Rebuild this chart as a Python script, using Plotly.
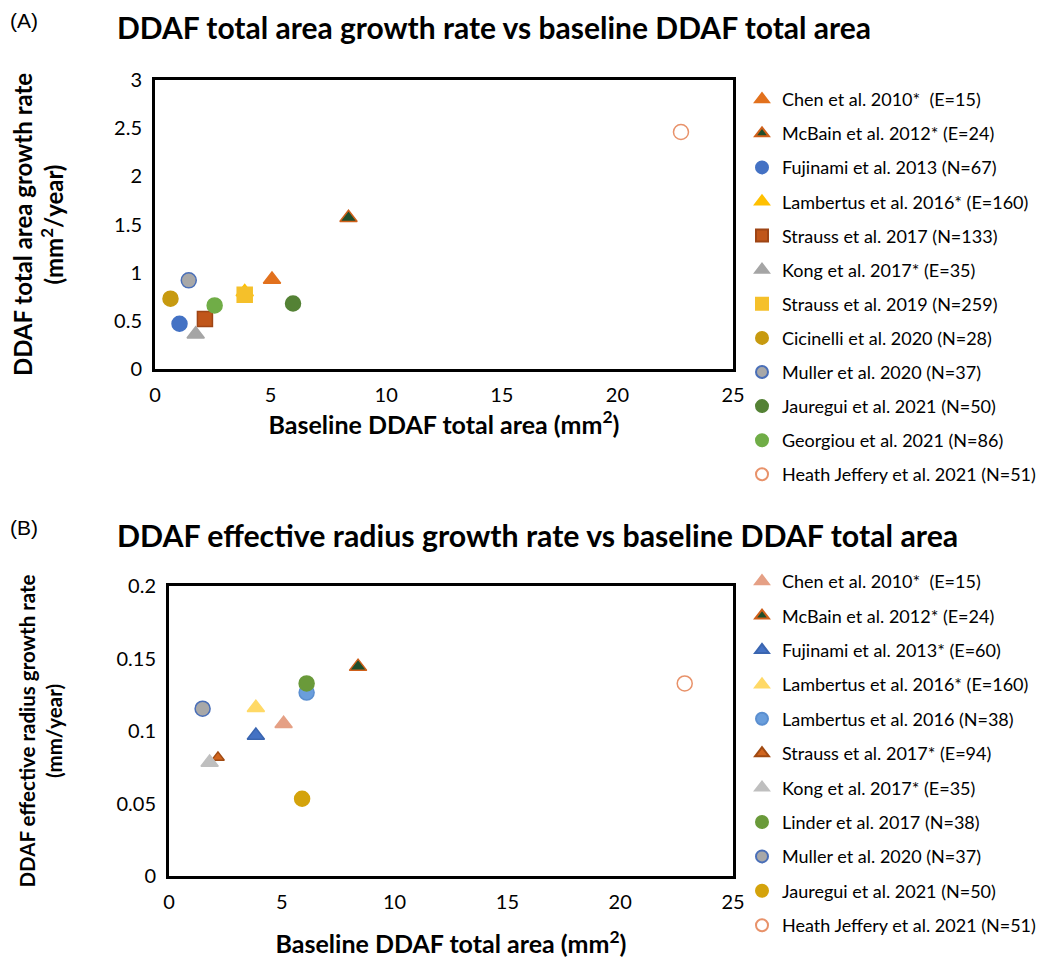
import plotly.graph_objects as go

# ---------------- Panel A data ----------------
a_names = ["Chen et al. 2010*  (E=15)", "McBain et al. 2012* (E=24)", "Fujinami et al. 2013 (N=67)",
           "Lambertus et al. 2016* (E=160)", "Strauss et al. 2017 (N=133)", "Kong et al. 2017* (E=35)",
           "Strauss et al. 2019 (N=259)", "Cicinelli et al. 2020 (N=28)", "Muller et al. 2020 (N=37)",
           "Jauregui et al. 2021 (N=50)", "Georgiou et al. 2021 (N=86)", "Heath Jeffery et al. 2021 (N=51)"]
a_x = [5.06, 8.37, 1.06, 3.88, 2.16, 1.76, 3.88, 0.67, 1.46, 5.97, 2.58, 22.75]
a_y = [0.93, 1.57, 0.47, 0.80, 0.52, 0.36, 0.77, 0.73, 0.92, 0.68, 0.66, 2.46]
a_sym = ["triangle-up", "triangle-up", "circle", "triangle-up", "square", "triangle-up",
         "square", "circle", "circle", "circle", "circle", "circle-open"]
a_fill = ["#E2711D", "#1F4E2C", "#4472C4", "#FFC000", "#C0561A", "#A5A5A5",
          "#F5C02A", "#C79A10", "#A8A8A8", "#548235", "#70AD47", "#E8926A"]
a_line = ["#E2711D", "#D0601A", "#4472C4", "#FFC000", "#9E4515", "#A5A5A5",
          "#F5C02A", "#C79A10", "#4A6FB8", "#548235", "#70AD47", "#E8926A"]

# ---------------- Panel B data ----------------
b_names = ["Chen et al. 2010*  (E=15)", "McBain et al. 2012* (E=24)", "Fujinami et al. 2013* (E=60)",
           "Lambertus et al. 2016* (E=160)", "Lambertus et al. 2016 (N=38)", "Strauss et al. 2017* (E=94)",
           "Kong et al. 2017* (E=35)", "Linder et al. 2017 (N=38)", "Muller et al. 2020 (N=37)",
           "Jauregui et al. 2021 (N=50)", "Heath Jeffery et al. 2021 (N=51)"]
b_x = [5.08, 8.38, 3.85, 3.85, 6.10, 2.17, 1.80, 6.10, 1.49, 5.90, 22.86]
b_y = [0.105, 0.1444, 0.0969, 0.1161, 0.1265, 0.0818, 0.0783, 0.1328, 0.1154, 0.0533, 0.1328]
b_sym = ["triangle-up", "triangle-up", "triangle-up", "triangle-up", "circle", "triangle-up",
         "triangle-up", "circle", "circle", "circle", "circle-open"]
b_fill = ["#E5A085", "#1F4E2C", "#4472C4", "#FFD966", "#6A9EDC", "#D0651F",
          "#BFBFBF", "#6A9A3A", "#A8A8A8", "#D4A30C", "#E8926A"]
b_line = ["#E5A085", "#D0601A", "#3A65B0", "#FFD966", "#5B8FD0", "#A04A12",
          "#BFBFBF", "#6A9A3A", "#4A6FB8", "#D4A30C", "#E8926A"]
b_size = [15, 15, 15, 15, 15, 11, 15, 15, 15, 15, 15]

FONT = "Lato"

fig = go.Figure()

for i, n in enumerate(a_names):
    fig.add_trace(go.Scatter(
        x=[a_x[i]], y=[a_y[i]], mode="markers", name=n, legend="legend", legendgroup="a%d" % i,
        xaxis="x", yaxis="y",
        marker=dict(symbol=a_sym[i], size=15, color=a_fill[i],
                    line=dict(color=a_line[i], width=1.5))))

for i, n in enumerate(b_names):
    fig.add_trace(go.Scatter(
        x=[b_x[i]], y=[b_y[i]], mode="markers", name=n, legend="legend2", legendgroup="b%d" % i,
        xaxis="x2", yaxis="y2",
        marker=dict(symbol=b_sym[i], size=b_size[i], color=b_fill[i],
                    line=dict(color=b_line[i], width=1.5))))

W, H = 1060, 963
OFF = 8  # page body margin offset


def px(x):
    return (x - OFF) / W


def py(y):
    return 1 - (y - OFF) / H


axis_common = dict(showline=True, linecolor="black", linewidth=3, mirror=True,
                   showgrid=False, zeroline=False, ticks="", automargin=False,
                   ticklabelstandoff=6,
                   tickfont=dict(family=FONT, size=20, color="#000"))

fig.update_layout(
    width=W, height=H, margin=dict(l=0, r=0, t=0, b=0, autoexpand=False),
    paper_bgcolor="white", plot_bgcolor="white",
    font=dict(family=FONT, color="#000"),
    xaxis=dict(domain=[px(155), px(733)], range=[0, 25], dtick=5, anchor="y",
               title=dict(text="<b>Baseline DDAF total area (mm<sup>2</sup>)</b>",
                          font=dict(family=FONT, size=25), standoff=2),
               **axis_common),
    yaxis=dict(domain=[py(369), py(80)], range=[0, 3], dtick=0.5, anchor="x",
               title=dict(text="<b>DDAF total area growth rate<br>(mm<sup>2</sup>/year)</b>",
                          font=dict(family=FONT, size=24), standoff=48),
               **axis_common),
    xaxis2=dict(domain=[px(169), px(733)], range=[0, 25], dtick=5, anchor="y2",
                title=dict(text="<b>Baseline DDAF total area (mm<sup>2</sup>)</b>",
                           font=dict(family=FONT, size=25), standoff=24),
                **axis_common),
    yaxis2=dict(domain=[py(876), py(586)], range=[0, 0.2], dtick=0.05, anchor="x2",
                title=dict(text="<b>DDAF effective radius growth rate<br>(mm/year)</b>",
                           font=dict(family=FONT, size=20.5), standoff=49),
                **axis_common),
    legend=dict(x=px(742), y=py(81), xanchor="left", yanchor="top",
                font=dict(family=FONT, size=18, color="#000"),
                tracegroupgap=7.7, itemsizing="constant", bgcolor="rgba(0,0,0,0)"),
    legend2=dict(x=px(742), y=py(563), xanchor="left", yanchor="top",
                 font=dict(family=FONT, size=18, color="#000"),
                 tracegroupgap=8, itemsizing="constant", bgcolor="rgba(0,0,0,0)"),
    annotations=[
        dict(text="(A)", x=px(8), y=py(20), xref="paper", yref="paper", xanchor="left",
             yanchor="middle", showarrow=False, font=dict(family="Liberation Sans", size=21)),
        dict(text="<b>DDAF total area growth rate vs baseline DDAF total area</b>",
             x=px(115), y=py(27), xref="paper", yref="paper", xanchor="left", yanchor="middle",
             showarrow=False, font=dict(family=FONT, size=30)),
        dict(text="(B)", x=px(8), y=py(527), xref="paper", yref="paper", xanchor="left",
             yanchor="middle", showarrow=False, font=dict(family="Liberation Sans", size=21)),
        dict(text="<b>DDAF effective radius growth rate vs baseline DDAF total area</b>",
             x=px(115), y=py(535), xref="paper", yref="paper", xanchor="left", yanchor="middle",
             showarrow=False, font=dict(family=FONT, size=30.3)),
    ],
)

fig.write_html("out.html")
